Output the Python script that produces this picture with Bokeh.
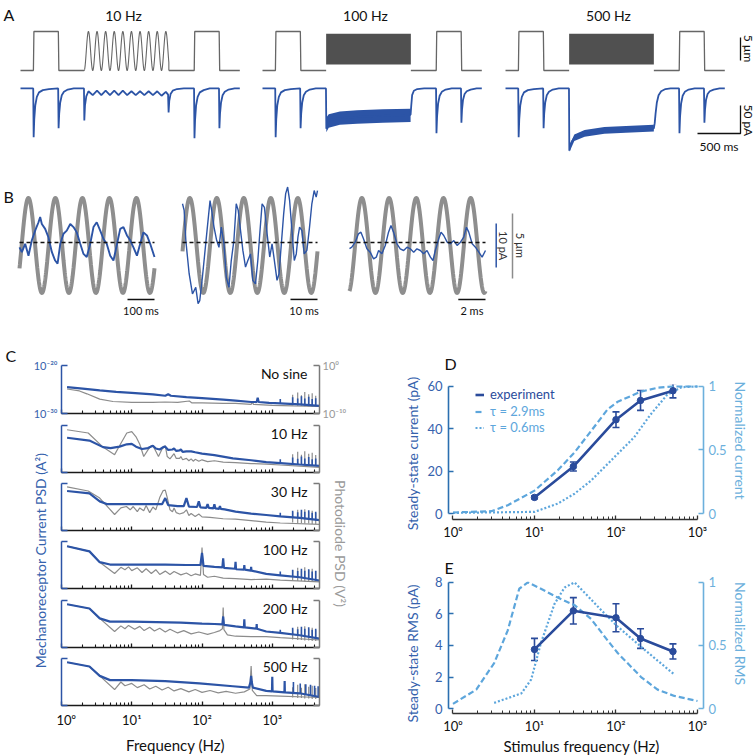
import numpy as np
from bokeh.plotting import figure
from bokeh.layouts import row, column
from bokeh.models import (Range1d, LinearAxis, LogAxis, LogScale, Label, Legend, Title,
                          LegendItem, Whisker, TeeHead, ColumnDataSource, FixedTicker)
from bokeh.embed import file_html
from bokeh.resources import INLINE

FONT = "Lato"
BLUE = "#2c54a6"
DBLUE = "#2a4b9b"
LBLUE = "#5da6dc"
AXBLUE = "#2b6fb0"
TXTBLUE = "#3562ad"
RBLUE = "#6cb0dc"
GRAY = "#8c8c8c"
AGRAY = "#666666"
BLOCK = "#505050"

# ---------------- DATA ----------------
# Panel A : stimulus protocol (ms, um) and receptor currents (ms, pA)
a_titles = ["10 Hz", "100 Hz", "500 Hz"]
a_freqs = [10, 100, 500]
a_gray_pre_t = [0, 150, 156, 440, 446, 740]
a_gray_pre_um = [0, 0, 8.5, 8.5, 0, 0]
a_gray_post_t = [1725, 2020, 2026, 2310, 2316, 2550]
a_gray_post_um = [0, 0, 8.5, 8.5, 0, 0]
a_sine_on, a_sine_off = 740, 1725
a_sine_amp = 4.25
a_block_lo, a_block_hi = 1.3, 8.0

a_p1_t = [0, 148, 153, 160, 172, 190, 215, 260, 330, 438, 443, 450, 462, 480, 505, 550, 620]
a_p1_v = [0, 0, -87, -55, -30, -15, -7, -3, -1, 0, -71, -45, -25, -12, -6, -2, 0]

a1_resp_t = [738, 742, 750, 765, 790, 840, 890, 940, 990, 1040, 1090, 1140, 1190, 1240, 1290,
             1340, 1390, 1440, 1490, 1540, 1590, 1640, 1690, 1716, 1722, 1730, 1745, 1770, 1820, 1900]
a1_resp_v = [0, -57, -30, -14, -5, -12, -4, -12, -4, -12, -4, -12, -4, -12, -5,
             -12, -5, -12, -5, -12, -5, -13, -6, -11, -43, -22, -10, -4, -1, 0]
a2_resp_t = [738, 742, 750, 770, 820, 900, 1000, 1200, 1400, 1600, 1722, 1730, 1740, 1760, 1800, 1880]
a2_resp_v = [0, -72, -66, -58, -55, -53, -52, -50, -49, -48, -47, -30, -12, -4, -1, 0]
a3_resp_t = [738, 742, 750, 770, 800, 850, 920, 1000, 1150, 1400, 1600, 1725, 1735, 1745, 1760,
             1780, 1810, 1860, 1920]
a3_resp_v = [0, -111, -104, -95, -88, -83, -80, -78, -75, -73, -72, -71, -62, -45, -25,
             -12, -5, -1, 0]

a_p3_t = [2018, 2023, 2030, 2042, 2060, 2085, 2130, 2200, 2308, 2313, 2320, 2332, 2350, 2375, 2420, 2490, 2550]
a1_p3_v = [0, -89, -56, -30, -15, -7, -3, 0, 0, -71, -45, -25, -12, -6, -2, 0, 0]
a23_p3_v = [0, -80, -50, -27, -13, -6, -2, 0, 0, -61, -38, -20, -10, -5, -2, 0, 0]

a2_band_t = [742, 770, 900, 1100, 1400, 1722]
a2_band_lo = [-78, -70, -65, -63, -61, -60]
a2_band_hi = [-52, -46, -41, -39, -37, -36]
a3_band_t = [745, 800, 920, 1150, 1400, 1725]
a3_band_lo = [-113, -94, -86, -81, -79, -77]
a3_band_hi = [-101, -82, -74, -69, -67, -65]

a_sb_ms, a_sb_pA, a_sb_um = 500, 50, 5

# Panel B
b_freqs = [10, 100, 500]
b_dur = [500, 50, 10]
b_first_peak = [33, 2.7, 0.91]
b_amp_um = 3.65
b_sb_ms = [100, 10, 2]
b_sb_text = ["100 ms", "10 ms", "2 ms"]
b_sb_pA, b_sb_um = 10, 5
b_blue_t = [
    [0, 8.6, 21, 33.3, 45.7, 58, 70.4, 76.5, 82.7, 95, 107, 120, 132, 141, 151, 163, 175, 188, 200, 212,
     225, 237, 249, 262, 274, 286, 299, 311, 323, 336, 348, 360, 373, 385, 398, 410, 422, 435, 447, 459,
     472, 484, 500],
    [0, 0.61, 1.23, 1.84, 2.46, 3.69, 4.91, 5.77, 6.39, 7.37, 8.23, 9.21, 10.2, 10.81, 11.67, 12.65,
     13.51, 14.37, 15.36, 16.22, 17.2, 18.06, 19.04, 19.9, 20.64, 21.5, 22.36, 23.34, 24.2, 25.18, 26.04,
     27.03, 27.89, 28.62, 29.48, 30.34, 31.33, 32.31, 33.17, 34.03, 35.01, 35.75, 36.61, 37.47, 38.21,
     38.94, 39.68, 40.54, 41.4, 42.14, 42.75, 43.37, 44.23, 45.09, 46.07, 47.05, 47.91, 48.77, 49.51, 50],
    [0, 0.17, 0.42, 0.66, 0.84, 1.03, 1.28, 1.52, 1.77, 1.97, 2.14, 2.38, 2.63, 2.87, 3.05, 3.24, 3.49,
     3.73, 3.98, 4.23, 4.47, 4.72, 4.96, 5.21, 5.45, 5.7, 5.95, 6.14, 6.31, 6.56, 6.73, 6.93, 7.18, 7.42,
     7.67, 7.91, 8.16, 8.4, 8.6, 8.77, 9.02, 9.26, 9.51, 9.75, 10.0],
]
b_blue_pA = [
    [-1.1, -2.2, -0.3, -3.0, 0.5, 2.7, 4.6, 5.8, 4.2, 3.1, 1.2, -2.2, -4.1, -4.8, -0.3, 2.0, 2.7, 4.2, 3.5,
     2.3, -0.3, -2.6, -3.3, -0.3, 3.5, 4.6, 2.7, 0.8, -0.3, -3.0, -4.1, -0.7, 3.1, 3.5, 1.6, 0.5, -1.1,
     -3.0, -0.3, 2.3, 1.6, -0.3, -3.3],
    [8.8, 7.3, 0.5, -3.3, -7.1, -11.7, -10.2, -13.9, -13.2, -7.9, -2.6, 3.5, 9.5, 7.3, 3.5, 0.5, -1.1, 3.5,
     -0.3, -7.9, -10.2, -4.1, 0.5, 8.8, 7.3, 2.7, -1.8, -5.6, -4.1, -2.6, -8.6, -9.4, -4.1, 2.0, 8.8, 8.0,
     2.0, -3.3, -0.3, -4.1, -8.6, -7.1, -0.3, 6.5, 11.1, 12.6, 9.5, 2.7, -4.1, -2.6, 1.2, 3.5, 2.7, -2.6,
     -1.8, 3.5, 8.8, 11.8, 10.3, 11.8],
    [-1.4, -1.06, 0.08, 1.97, 2.35, 0.83, -1.44, -2.2, -3.71, -3.33, -1.82, -2.58, -0.68, 2.35, 3.86, 2.35,
     -0.3, -1.44, -1.82, -1.06, -1.44, -2.2, -1.44, -1.82, -2.58, -1.82, -3.33, -4.09, -1.82, 0.83, 2.35,
     1.59, 0.08, -0.3, 0.45, -0.68, 0.08, 1.21, 3.48, 2.35, -0.3, -1.06, -2.2, -3.33, -1.82],
]

# Panel C : PSDs, (frequency Hz, log10 PSD) ; blue in A^2, gray in V^2
c_titles = ["No sine", "10 Hz", "30 Hz", "100 Hz", "200 Hz", "500 Hz"]
c_blue = [
    [(1.2, -24.5), (2.0, -24.8), (3.5, -25.2), (6, -25.5), (10, -25.7), (20, -26.0), (30, -26.3), (33, -26.0),
     (36, -26.3), (60, -26.6), (100, -26.8), (200, -27.1), (300, -27.3), (500, -27.6), (600, -27.6),
     (620, -26.7), (640, -27.6), (900, -27.8), (1300, -27.9), (2450, -28.1), (4700, -28.4)],
    [(1.2, -22.6), (2.5, -23.2), (3.9, -24.6), (5, -24.8), (6.7, -24.5), (8.5, -24.0), (10, -23.9),
     (11.5, -24.5), (14, -25.0), (17, -24.8), (20, -24.3), (22, -24.9), (25, -25.1), (28, -24.6), (30, -24.5),
     (33, -25.2), (38, -25.1), (40, -24.9), (43, -25.4), (48, -25.3), (50, -25.1), (53, -25.6), (60, -25.5),
     (70, -25.5), (80, -25.7), (100, -26.0), (150, -26.3), (275, -27.0), (500, -27.4), (820, -27.8),
     (1300, -28.0), (2450, -28.3), (4700, -28.6)],
    [(1.2, -21.6), (2.5, -22.1), (3.5, -23.8), (4.5, -24.4), (10, -24.4), (20, -24.4), (27, -24.4),
     (30, -23.1), (33, -24.6), (45, -24.8), (55, -24.8), (60, -23.1), (65, -24.9), (85, -25.0), (90, -23.8),
     (95, -25.1), (115, -25.2), (120, -24.4), (125, -25.2), (145, -25.3), (150, -24.4), (155, -25.3),
     (175, -25.4), (180, -24.8), (185, -25.4), (210, -25.5), (300, -26.0), (500, -26.4), (820, -26.7),
     (1300, -27.0), (2450, -27.3), (4700, -27.8)],
    [(1.2, -21.0), (2.5, -22.1), (3.5, -24.4), (4.9, -24.9), (10, -24.9), (30, -24.9), (60, -25.0),
     (95, -25.0), (100, -22.4), (105, -25.2), (150, -25.4), (195, -25.5), (200, -23.6), (205, -25.6),
     (295, -25.8), (300, -24.3), (305, -25.9), (395, -26.0), (400, -25.0), (405, -26.0), (495, -26.2),
     (500, -25.4), (505, -26.2), (820, -26.9), (1300, -27.2), (2450, -27.6), (4700, -28.3)],
    [(1.2, -20.8), (2.5, -21.7), (3.5, -23.8), (4.9, -24.5), (10, -24.5), (50, -24.7), (100, -24.9),
     (150, -25.0), (195, -25.1), (200, -23.4), (205, -25.2), (300, -25.5), (395, -25.7), (400, -24.0),
     (405, -25.7), (595, -26.0), (600, -25.0), (605, -26.0), (820, -26.6), (1300, -26.9), (2450, -27.4),
     (4700, -28.1)],
    [(1.2, -20.8), (2.5, -21.7), (3.5, -23.7), (4.9, -24.6), (10, -24.6), (30, -24.8), (92, -25.3),
     (275, -25.9), (465, -26.2), (490, -25.0), (500, -23.7), (510, -25.0), (530, -26.2), (820, -26.9),
     (990, -27.0), (1000, -23.9), (1010, -27.0), (1490, -27.2), (1500, -24.8), (1510, -27.2), (2450, -27.4),
     (4700, -28.2)],
]
c_gray = [
    [(1.2, -4.9), (1.8, -5.3), (2.3, -5.9), (3.5, -7.0), (5.4, -7.5), (10, -7.7), (20, -7.7), (30, -7.6),
     (45, -7.7), (66, -7.4), (72, -7.8), (100, -7.8), (200, -7.9), (300, -7.9), (500, -8.1), (520, -7.6),
     (540, -8.1), (1000, -8.3), (2000, -8.4), (4700, -8.5)],
    [(1.2, -0.9), (2.4, -1.6), (3.9, -4.6), (5.7, -6.2), (6.7, -4.3), (8.5, -1.6), (10, -1.3), (11.5, -2.4),
     (13, -4.0), (14.8, -6.6), (17, -5.2), (19, -4.3), (20, -4.3), (22, -5.5), (24, -6.6), (27, -5.0),
     (30, -4.3), (32, -6.6), (35, -7.1), (38, -6.4), (40, -6.0), (43, -7.0), (48, -7.0), (50, -6.6),
     (53, -7.3), (60, -7.0), (65, -7.5), (70, -7.1), (75, -7.6), (80, -7.2), (90, -7.6), (100, -7.3),
     (120, -7.7), (150, -7.5), (200, -7.8), (300, -7.9), (500, -8.1), (820, -8.2), (1300, -8.4), (4700, -8.9)],
    [(1.2, -0.7), (2.4, -1.6), (3.5, -3.1), (5.7, -6.6), (7, -5.2), (8.4, -4.9), (9.5, -5.6), (10.5, -4.9),
     (12, -6.0), (13, -5.2), (14.8, -5.8), (16, -4.7), (18, -6.2), (20, -5.0), (22, -5.6), (25, -3.0),
     (28, -1.5), (30, -1.4), (32, -3.0), (35, -5.6), (38, -6.0), (40, -5.2), (43, -6.2), (48, -6.5),
     (55, -6.2), (60, -5.6), (65, -6.8), (70, -6.4), (80, -7.0), (90, -6.5), (100, -7.1), (130, -7.2),
     (200, -7.5), (300, -7.6), (500, -7.9), (820, -8.2), (1300, -8.4), (4700, -8.7)],
    [(1.2, -1.0), (2.5, -2.1), (3.5, -4.4), (5.7, -6.8), (7, -5.5), (8, -6.0), (9, -5.4), (10, -6.2),
     (12, -5.6), (14, -6.6), (16, -5.8), (19, -6.8), (22, -6.0), (25, -7.0), (30, -6.3), (35, -7.0),
     (40, -6.4), (50, -7.1), (60, -6.7), (70, -7.3), (80, -6.9), (95, -7.2), (100, -1.3), (105, -7.0),
     (120, -7.6), (150, -7.4), (200, -7.8), (300, -7.9), (500, -8.1), (820, -8.0), (1300, -8.2), (4700, -8.6)],
    [(1.2, -0.8), (2.5, -1.7), (3.5, -3.8), (5.7, -6.6), (7, -5.4), (8, -6.0), (9, -5.3), (11, -6.1),
     (13, -5.5), (15, -6.4), (18, -5.7), (21, -6.5), (25, -5.9), (30, -6.7), (35, -6.1), (45, -6.9),
     (55, -6.4), (70, -7.1), (90, -6.7), (120, -7.2), (150, -6.8), (180, -6.4), (195, -6.0), (200, -1.5),
     (205, -6.2), (230, -7.3), (300, -7.6), (500, -7.7), (820, -7.7), (1300, -7.9), (4700, -8.4)],
    [(1.2, -0.8), (2.5, -1.7), (3.5, -3.7), (5.7, -6.6), (7, -5.0), (8, -5.8), (10, -5.3), (12, -6.2),
     (15, -5.6), (18, -6.5), (22, -5.9), (27, -6.7), (33, -6.1), (40, -6.9), (50, -6.4), (65, -7.1),
     (80, -6.6), (100, -7.2), (130, -6.8), (170, -7.3), (220, -7.0), (300, -7.4), (400, -7.1), (480, -6.5),
     (500, -1.6), (520, -6.8), (600, -7.9), (820, -7.9), (1300, -8.0), (4700, -8.3)],
]
c_spk_f = [[1300, 1950, 2300, 2600, 2900, 3300, 3700, 4150]] * 5 + [[2000, 2500, 3000, 3500, 4000, 4500]]
c_spk_base = [
    [-27.9, -28.0, -28.1, -28.1, -28.2, -28.2, -28.3, -28.4],
    [-28.0, -28.2, -28.3, -28.3, -28.4, -28.4, -28.5, -28.6],
    [-27.0, -27.2, -27.3, -27.4, -27.5, -27.6, -27.7, -27.8],
    [-27.2, -27.4, -27.6, -27.7, -27.8, -28.0, -28.1, -28.2],
    [-26.9, -27.2, -27.4, -27.5, -27.6, -27.8, -27.9, -28.0],
    [-27.2, -27.4, -27.6, -27.8, -28.0, -28.1],
]
c_spk_peak = [
    [-27.0, -26.6, -26.9, -26.4, -26.9, -26.5, -27.0, -26.8],
    [-27.2, -26.8, -27.1, -26.6, -27.0, -26.7, -27.2, -27.0],
    [-26.2, -25.8, -26.1, -25.6, -26.0, -25.7, -26.2, -26.0],
    [-26.4, -26.0, -26.3, -25.8, -26.2, -25.9, -26.4, -26.2],
    [-26.2, -25.8, -26.1, -25.6, -26.0, -25.7, -26.2, -26.0],
    [-25.0, -25.3, -25.5, -25.6, -25.8, -25.9],
]
c_gspk_f = [1950, 2300, 2600, 2900, 3300, 3700, 4150]
c_gspk_base = [-8.3, -8.4, -8.4, -8.5, -8.5, -8.6, -8.6]
c_gspk_peak = [-6.1, -5.6, -6.2, -5.5, -6.0, -5.8, -6.3]

# Panel D / E : experiment (mean, s.e.) and models (normalised)
exp_f = [10, 30, 100, 200, 500]
d_mean = [7.6, 22.2, 44.3, 53.4, 58.0]
d_err = [0.6, 2.1, 3.7, 4.7, 3.4]
e_mean = [3.75, 6.2, 5.76, 4.44, 3.62]
e_err = [0.7, 0.84, 0.89, 0.62, 0.48]
d_tau29_f = [1, 2.95, 4.7, 10, 19.3, 30.9, 49.5, 79, 105, 203, 324, 500, 1000]
d_tau29_v = [0.008, 0.018, 0.065, 0.18, 0.34, 0.48, 0.65, 0.82, 0.88, 0.96, 0.99, 1.0, 1.0]
d_tau06_f = [1, 10, 19.3, 31, 49.5, 79, 105, 167, 266, 425, 640, 1000]
d_tau06_v = [0.005, 0.013, 0.078, 0.156, 0.26, 0.39, 0.47, 0.6, 0.78, 0.935, 0.995, 1.0]
e_tau29_f = [1, 1.93, 3.2, 4.7, 6.5, 8.3, 12, 19.3, 31, 49.5, 79, 105, 203, 324, 520, 1000]
e_tau29_v = [0.037, 0.15, 0.36, 0.62, 0.95, 1.0, 0.95, 0.88, 0.82, 0.71, 0.54, 0.44, 0.25, 0.15, 0.1, 0.06]
e_tau06_f = [3.2, 6.9, 9.1, 12, 17.6, 23.4, 31, 41, 66, 105, 203, 324, 520]
e_tau06_v = [0.045, 0.12, 0.23, 0.52, 0.83, 0.96, 1.0, 0.92, 0.78, 0.65, 0.49, 0.38, 0.27]
d_yticks = [0, 20, 40, 60]
e_yticks = [0, 2, 4, 6, 8]
norm_ticks = [0, 0.5, 1]
legend_labels = ["experiment", "\u03c4 = 2.9ms", "\u03c4 = 0.6ms"]

SUP = {1: "10\u2070", 10: "10\u00b9", 100: "10\u00b2", 1000: "10\u00b3"}


# ---------------- HELPERS ----------------
def blank(w, h, xr=(0, 1), yr=(0, 1)):
    p = figure(width=w, height=h, x_range=Range1d(*xr), y_range=Range1d(*yr),
               x_axis_location=None, y_axis_location=None, min_border=0,
               output_backend="svg", toolbar_location=None)
    p.outline_line_color = None
    p.grid.visible = False
    return p


def lab(p, x, y, text, size="14px", color="#111111", align="left", baseline="middle",
        angle=0.0, units="screen", yname="default"):
    p.add_layout(Label(x=x, y=y, x_units=units, y_units=units, text=text, y_range_name=yname,
                       text_font=FONT, text_font_size=size, text_color=color,
                       text_align=align, text_baseline=baseline, angle=angle))


def letter(p, text, offset, standoff):
    p.title = Title(text=text, align="left", offset=offset, standoff=standoff, text_font=FONT,
                    text_font_size="16px", text_font_style="normal", text_color="#111111")


# ---------------- PANEL A ----------------
A_W = [250, 242, 263]
A_T0 = [20, 12, 13]
A_H = 155
MSPX = 500 / 43.0
a_resp_t = [a1_resp_t, a2_resp_t, a3_resp_t]
a_resp_v = [a1_resp_v, a2_resp_v, a3_resp_v]
a_p3_v = [a1_p3_v, a23_p3_v, a23_p3_v]
a_band = [None, (a2_band_t, a2_band_lo, a2_band_hi), (a3_band_t, a3_band_lo, a3_band_hi)]
a_figs = []
for k in range(3):
    w = A_W[k]
    x0 = -A_T0[k] * MSPX
    p = blank(w, A_H, (x0, x0 + w * MSPX), (-18.53, 15.26))
    p.extra_y_ranges = {"pA": Range1d(-119.7, 157.1)}
    p.line(a_gray_pre_t, a_gray_pre_um, line_color=AGRAY, line_width=1.3)
    p.line(a_gray_post_t, a_gray_post_um, line_color=AGRAY, line_width=1.3)
    if k == 0:
        ts = np.linspace(a_sine_on, a_sine_off, 1500)
        ys = a_sine_amp * (1 - np.cos(2 * np.pi * a_freqs[0] * (ts - a_sine_on) / 1000.0))
        p.line(np.r_[ts, a_sine_off], np.r_[ys, 0], line_color=AGRAY, line_width=1.1)
    else:
        p.varea(x=[a_sine_on, a_sine_off], y1=[a_block_lo] * 2, y2=[a_block_hi] * 2, fill_color=BLOCK)
        bt_, blo, bhi = a_band[k]
        p.varea(x=bt_, y1=blo, y2=bhi, fill_color=BLUE, y_range_name="pA")
    p.line(a_p1_t + a_resp_t[k] + a_p3_t, a_p1_v + a_resp_v[k] + a_p3_v[k],
           line_color=BLUE, line_width=1.8, y_range_name="pA")
    lab(p, A_T0[k] + 103, A_H - 15, a_titles[k], size="14px", align="center")
    a_figs.append(p)
lab(a_figs[0], 3, A_H - 4, "A", size="16px", baseline="top")
p = a_figs[2]
tb = (248 - 13) * MSPX
p.line([tb - a_sb_ms, tb, tb], [-80.4, -80.4, -80.4 + a_sb_pA], line_color="#111111",
       line_width=1.3, y_range_name="pA")
p.line([tb, tb], [2.18, 2.18 + a_sb_um], line_color="#111111", line_width=1.3)
lab(p, tb - a_sb_ms / 2, -103.6, "500 ms", size="12px", align="center", units="data", yname="pA")
lab(p, (256 - 13) * MSPX, -57, "50 pA", size="12px", align="center", angle=-np.pi / 2,
    units="data", yname="pA")
lab(p, (256 - 13) * MSPX, 4.8, "5 \u00b5m", size="12px", align="center", angle=-np.pi / 2, units="data")

# ---------------- PANEL B ----------------
B_W = [170, 165, 420]
B_H = 175
b_t0px = [19, 12, 14]
b_mspx = [500 / 135.0, 50 / 135.0, 10 / 136.0]
b_figs = []
for k in range(3):
    w, m = B_W[k], b_mspx[k]
    p = blank(w, B_H, (-b_t0px[k] * m, (w - b_t0px[k]) * m), (-6.54, 6.92))
    p.extra_y_ranges = {"pA": Range1d(-20.0, 19.77)}
    ts = np.linspace(0, b_dur[k], 800)
    ys = b_amp_um * np.cos(2 * np.pi * b_freqs[k] * (ts - b_first_peak[k]) / 1000.0)
    p.line(ts, ys, line_color="#8e8e8e", line_width=4)
    p.line(b_blue_t[k], b_blue_pA[k], line_color=BLUE, line_width=1.9 if k == 0 else 1.4,
           y_range_name="pA")
    p.line([0, b_dur[k]], [0, 0], line_color="#111111", line_width=1.5, line_dash="4 3",
           y_range_name="pA")
    p.line([b_dur[k] - b_sb_ms[k], b_dur[k]], [-4.15, -4.15], line_color="#111111", line_width=1.5)
    lab(p, b_dur[k] - b_sb_ms[k] / 2, -5.0, b_sb_text[k], size="11px", align="center", units="data")
    b_figs.append(p)
lab(b_figs[0], 3, B_H - 31, "B", size="16px", baseline="top")
p = b_figs[2]
m = b_mspx[2]
xb1 = (160.7 - 14) * m
xb2 = (177 - 14) * m
p.line([xb1, xb1], [-5.7, -5.7 + b_sb_pA], line_color=BLUE, line_width=1.5, y_range_name="pA")
p.line([xb2, xb2], [-2.54, -2.54 + b_sb_um], line_color=GRAY, line_width=1.5)
lab(p, (168 - 14) * m, -0.7, "10 pA", size="11px", color="#333333", align="center",
    angle=-np.pi / 2, units="data", yname="pA")
lab(p, (185 - 14) * m, 0.0, "5 \u00b5m", size="11px", color="#333333", align="center",
    angle=-np.pi / 2, units="data")

# ---------------- PANEL C ----------------
minor_c = [mm * 10 ** e for e in range(4) for mm in range(2, 10) if mm * 10 ** e < 4700]


def hide_labels(ax):
    ax.major_label_text_font_size = "1px"
    ax.major_label_text_alpha = 0
    ax.major_label_standoff = 0


def c_panel(k, w, h, bl, br, bt, bb, ylabels, xlabels):
    p = figure(width=w, height=h, x_axis_type="log", y_axis_type="log",
               x_range=Range1d(1, 4700), y_range=Range1d(1e-30, 1e-20),
               x_axis_location=None, y_axis_location=None,
               min_border_left=bl, min_border_right=br, min_border_top=bt, min_border_bottom=bb,
               output_backend="svg", toolbar_location=None)
    p.extra_y_ranges = {"pd": Range1d(1e-10, 1.0)}
    p.extra_y_scales = {"pd": LogScale()}
    p.outline_line_color = None
    p.grid.visible = False
    xa = LogAxis(ticker=FixedTicker(ticks=[1, 10, 100, 1000], minor_ticks=minor_c))
    ya = LogAxis(ticker=FixedTicker(ticks=[1e-30, 1e-20], minor_ticks=[]))
    yb = LogAxis(y_range_name="pd", ticker=FixedTicker(ticks=[1e-10, 1.0], minor_ticks=[]))
    for ax, col in ((xa, "#1a1a1a"), (ya, BLUE), (yb, "#7a7a7a")):
        ax.axis_line_color = col
        ax.axis_line_width = 1.5
        ax.major_tick_line_color = col
        ax.minor_tick_line_color = col
        ax.major_tick_line_width = 1.3
        ax.minor_tick_line_width = 1.1
        ax.major_tick_out = 0
        ax.minor_tick_out = 0
        ax.major_label_text_font = FONT
    xa.major_tick_in = 4
    xa.minor_tick_in = 3
    ya.major_tick_in = 6
    yb.major_tick_in = 6
    if xlabels:
        xa.major_label_overrides = SUP
        xa.major_label_text_font_size = "13px"
        xa.major_label_text_color = "#111111"
        xa.major_label_standoff = 6
    else:
        hide_labels(xa)
    if ylabels:
        ya.major_label_overrides = {1e-30: "10\u207b\u00b3\u2070", 1e-20: "10\u207b\u00b2\u2070"}
        yb.major_label_overrides = {1e-10: "10\u207b\u00b9\u2070", 1.0: "10\u2070"}
        ya.major_label_text_font_size = "11px"
        yb.major_label_text_font_size = "11px"
        ya.major_label_text_color = TXTBLUE
        yb.major_label_text_color = "#999999"
        ya.major_label_standoff = 4
        yb.major_label_standoff = 3
    else:
        hide_labels(ya)
        hide_labels(yb)
    p.add_layout(xa, "below")
    p.add_layout(ya, "left")
    p.add_layout(yb, "right")

    gf, gv = zip(*c_gray[k])
    p.line(gf, 10 ** np.array(gv), line_color=GRAY, line_width=1.2, y_range_name="pd")
    p.segment(x0=c_gspk_f, y0=10 ** np.array(c_gspk_base), x1=c_gspk_f, y1=10 ** np.array(c_gspk_peak),
              line_color=GRAY, line_width=1.2, y_range_name="pd")
    bf, bv = zip(*c_blue[k])
    p.line(bf, 10 ** np.array(bv), line_color=BLUE, line_width=2.2)
    p.segment(x0=c_spk_f[k], y0=10 ** np.array(c_spk_base[k]), x1=c_spk_f[k],
              y1=10 ** np.array(c_spk_peak[k]), line_color=BLUE, line_width=1.6)
    fh = h - bt - bb
    lab(p, 246, fh - 8, c_titles[k], size="14px", align="right")
    return p


c1 = c_panel(0, 395, 89, 61, 76, 35, 6, True, False)
letter(c1, "C", -56, 2)
c_heights = [58, 58, 59, 58]
c_rest = []
for k in range(1, 5):
    c_rest.append(c_panel(k, 267, c_heights[k - 1], 5, 4, 6, c_heights[k - 1] - 53, False, False))
c_rest.append(c_panel(5, 267, 79, 5, 4, 6, 26, False, True))
c_xlab = blank(267, 25)
lab(c_xlab, 114, 12, "Frequency (Hz)", size="15px", align="center")
c_rest.append(c_xlab)

cl = blank(56, 337)
lab(cl, 40, 196, "Mechanoreceptor Current PSD (A\u00b2)", size="14px", color=TXTBLUE, align="center",
    angle=np.pi / 2)
cr = blank(72, 337)
lab(cr, 17, 213, "Photodiode PSD (V\u00b2)", size="14px", color="#9a9a9a", align="center",
    angle=-np.pi / 2)

# ---------------- PANELS D / E ----------------
minor_de = [mm * 10 ** e for e in range(3) for mm in range(2, 10)]


def de_panel(h, bt, bb, yr, nr, yticks, ybound, mean, err, m29f, m29v, m06f, m06v):
    p = figure(width=307, height=h, x_axis_type="log", x_range=Range1d(0.881, 1185),
               y_range=Range1d(*yr), x_axis_location=None, y_axis_location=None,
               min_border_left=24, min_border_right=28, min_border_top=bt, min_border_bottom=bb,
               output_backend="svg", toolbar_location=None)
    p.extra_y_ranges = {"norm": Range1d(*nr)}
    p.outline_line_color = None
    p.grid.visible = False
    xa = LogAxis(ticker=FixedTicker(ticks=[1, 10, 100, 1000], minor_ticks=minor_de), bounds=(1, 1000))
    ya = LinearAxis(ticker=FixedTicker(ticks=yticks), bounds=(0, ybound))
    yb = LinearAxis(y_range_name="norm", ticker=FixedTicker(ticks=norm_ticks), bounds=(0, 1))
    for ax, col, tcol in ((xa, "#333333", "#111111"), (ya, AXBLUE, TXTBLUE), (yb, RBLUE, RBLUE)):
        ax.axis_line_color = col
        ax.axis_line_width = 1.6
        ax.major_tick_line_color = col
        ax.minor_tick_line_color = col
        ax.major_tick_line_width = 1.3
        ax.major_tick_out = 0
        ax.minor_tick_out = 0
        ax.major_label_text_font = FONT
        ax.major_label_text_color = tcol
        ax.major_label_text_font_size = "13px"
    xa.major_tick_in = 4
    xa.minor_tick_in = 3
    xa.major_label_overrides = SUP
    xa.major_label_standoff = 4
    ya.major_tick_in = 5
    ya.major_label_standoff = 6
    yb.major_tick_in = 5
    yb.major_label_standoff = 5
    yb.major_label_overrides = {0: "0", 0.5: "0.5", 1: "1"}
    p.add_layout(xa, "below")
    p.add_layout(ya, "left")
    p.add_layout(yb, "right")

    r29 = p.line(m29f, m29v, line_color=LBLUE, line_width=2.2, line_dash="6 3", y_range_name="norm")
    r06 = p.line(m06f, m06v, line_color=LBLUE, line_width=2.2, line_dash="2 2", y_range_name="norm")
    lo = [a - b for a, b in zip(mean, err)]
    hi = [a + b for a, b in zip(mean, err)]
    src = ColumnDataSource(dict(x=exp_f, y=mean, lo=lo, hi=hi))
    p.add_layout(Whisker(source=src, base="x", upper="hi", lower="lo", line_color=DBLUE, line_width=1.6,
                         upper_head=TeeHead(size=7, line_color=DBLUE, line_width=1.6),
                         lower_head=TeeHead(size=7, line_color=DBLUE, line_width=1.6)))
    rexp = p.line("x", "y", source=src, line_color=DBLUE, line_width=2.6)
    p.scatter("x", "y", source=src, size=6.5, color=DBLUE)
    return p, rexp, r29, r06


pD, rexp, r29, r06 = de_panel(220, 54, 31, (-2.83, 60.94), (-2.83 / 60, 60.94 / 60), d_yticks, 60,
                              d_mean, d_err, d_tau29_f, d_tau29_v, d_tau06_f, d_tau06_v)
leg_kw = dict(glyph_width=9, glyph_height=13, label_height=13, label_standoff=6, padding=0, spacing=0,
              margin=0, border_line_color=None, background_fill_alpha=0, label_text_font=FONT,
              label_text_font_size="13px")
pD.add_layout(Legend(items=[LegendItem(label=legend_labels[0], renderers=[rexp])], location=(27, 117),
                     label_text_color=DBLUE, **leg_kw))
pD.add_layout(Legend(items=[LegendItem(label=legend_labels[1], renderers=[r29]),
                            LegendItem(label=legend_labels[2], renderers=[r06])], location=(27, 84),
                     label_text_color=LBLUE, **leg_kw))
letter(pD, "D", -4, 24)

pE, _, _, _ = de_panel(186, 31, 22, (-0.315, 8.06), (-0.315 / 8, 8.06 / 8), e_yticks, 8,
                       e_mean, e_err, e_tau29_f, e_tau29_v, e_tau06_f, e_tau06_v)
letter(pE, "E", -4, 10)
e_xlab = blank(307, 20)
lab(e_xlab, 133, 11, "Stimulus frequency (Hz)", size="15px", align="center")

de_left = blank(29, 426)
lab(de_left, 17, 303, "Steady-state current (pA)", size="14px", color=TXTBLUE, align="center",
    angle=np.pi / 2)
lab(de_left, 17, 103, "Steady-state RMS (pA)", size="14px", color=TXTBLUE, align="center",
    angle=np.pi / 2)
de_right = blank(24, 426)
lab(de_right, 9, 316, "Normalized current", size="14px", color=RBLUE, align="center", angle=-np.pi / 2)
lab(de_right, 9, 123, "Normalized RMS", size="14px", color=RBLUE, align="center", angle=-np.pi / 2)

# ---------------- LAYOUT ----------------
left_block = column(c1, row(cl, column(*c_rest), cr))
right_block = row(de_left, column(pD, pE, e_xlab), de_right)
layout = column(row(*a_figs), row(*b_figs), row(left_block, right_block))

with open("out.html", "w") as f:
    f.write(file_html(layout, INLINE))
